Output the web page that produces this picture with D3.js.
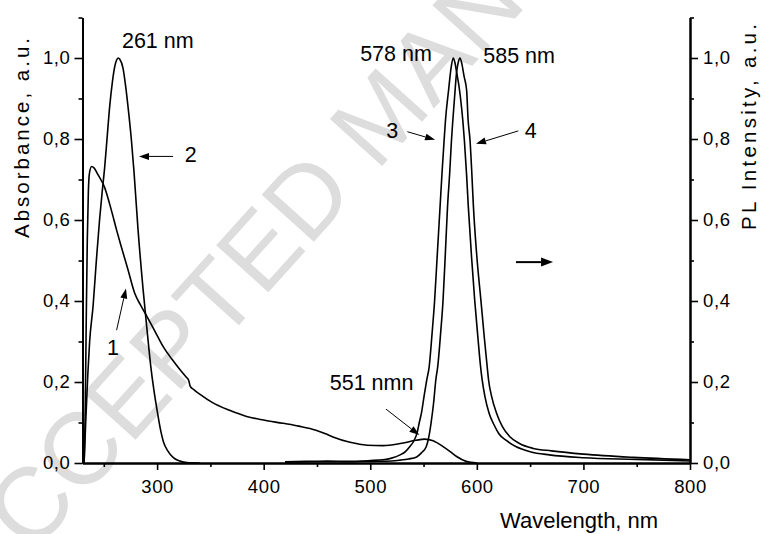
<!DOCTYPE html>
<html><head><meta charset="utf-8">
<script src="https://cdn.jsdelivr.net/npm/d3@7"></script>
<style>
body{margin:0;background:#fff}
svg{display:block}
text{font-family:Arial,"Liberation Sans",sans-serif;fill:#000}
</style>
</head><body><svg id="c" width="765" height="534"></svg>
<script>
// ---- data (wavelength in nm, normalized intensity) ----
const wl1  = [231.5,232.5,233.5,234.5,235.5,236.5,238.5,241,244.5,250.8,257,262,266.4,272.7,279,284,288.3,295,301,306,314,321,327,329.5,331,335,340,352,368,384,400,418,433,449,458,465,481,497,512,528,543,551,559,568,575,581,590,600];
const abs1 = [0,0.12,0.35,0.55,0.67,0.715,0.732,0.728,0.712,0.68,0.625,0.575,0.534,0.477,0.419,0.392,0.372,0.34,0.31,0.286,0.256,0.232,0.213,0.205,0.19,0.18,0.17,0.149,0.13,0.115,0.106,0.098,0.091,0.081,0.072,0.064,0.051,0.044,0.043,0.048,0.056,0.059,0.055,0.041,0.028,0.016,0.004,0.0];

const wl2  = [231.5,233,235,236.7,240,243,246,248.5,250.8,253,255.5,258,260.2,262,263.5,265,268,270.5,272.7,275.8,278.3,282,286.8,290.5,294,297,300,303,306,310,315,320,328,340];
const abs2 = [0,0.1,0.22,0.3,0.39,0.5,0.6,0.67,0.73,0.8,0.88,0.94,0.978,0.995,1.0,0.997,0.975,0.93,0.88,0.8,0.72,0.58,0.43,0.33,0.24,0.18,0.13,0.085,0.052,0.03,0.014,0.006,0.001,0];

const wl3 = [420,440,460,480,500,512,520,528,533,537,541,544,546,548,550.5,553,555.3,558,560.4,563,565.5,567.3,569.3,570.6,573.5,575.8,577.8,579.3,581,583,584.5,586.8,588.3,590.3,592,595,598,601,603.5,605,607.6,611.5,616,620.5,628,637,650,668,700,750,800];
const pl3 = [0.003,0.004,0.005,0.004,0.006,0.008,0.012,0.02,0.028,0.04,0.055,0.075,0.1,0.123,0.165,0.205,0.238,0.32,0.402,0.52,0.633,0.715,0.797,0.847,0.921,0.975,1.0,0.99,0.965,0.935,0.905,0.847,0.797,0.715,0.633,0.51,0.402,0.31,0.238,0.205,0.164,0.123,0.095,0.073,0.055,0.04,0.028,0.02,0.013,0.009,0.005];

const wl4 = [420,450,480,500,520,528,536,543.5,548,552.5,555,557,559.5,561.5,563.3,566,568.3,570.5,572.5,574.5,576.2,577.5,579.3,581,582.8,584.2,586,588,590.4,591.8,593.6,595.3,596.8,600,603.8,607,609.7,611,613.9,618.5,624,631,640,653,670,700,747,800];
const pl4 = [0.002,0.003,0.003,0.004,0.005,0.007,0.01,0.015,0.025,0.04,0.065,0.098,0.15,0.205,0.238,0.32,0.402,0.52,0.633,0.715,0.797,0.847,0.91,0.965,0.992,1.0,0.985,0.955,0.921,0.847,0.797,0.715,0.633,0.51,0.402,0.31,0.238,0.205,0.164,0.123,0.09,0.065,0.048,0.036,0.03,0.022,0.014,0.008];

const xMajor = [300,400,500,600,700,800];
const xMinor = [250,350,450,550,650,750];
const yMajor = [0,0.2,0.4,0.6,0.8,1.0];
const yMinor = [0.1,0.3,0.5,0.7,0.9,1.1];

const xTitle = "Wavelength, nm";
const yLeftTitle = "Absorbance, a.u.";
const yRightTitle = "PL Intensity, a.u.";

// annotation texts (positions in data units)
const labels = [
  {t:"261 nm", x:267, y:1.025},
  {t:"2", x:326, y:0.743},
  {t:"1", x:253, y:0.267},
  {t:"3", x:515, y:0.802},
  {t:"4", x:645, y:0.802},
  {t:"578 nm", x:490.5, y:0.993},
  {t:"585 nm", x:606, y:0.988},
  {t:"551 nmn", x:462, y:0.180}
];
const arrows = [
  {x1:315, y1:0.757, x2:283, y2:0.757, w:1},
  {x1:262, y1:0.328, x2:270.8, y2:0.431, w:1},
  {x1:534.8, y1:0.818, x2:560.8, y2:0.798, w:1},
  {x1:638.9, y1:0.820, x2:599.2, y2:0.788, w:1},
  {x1:514.8, y1:0.133, x2:546, y2:0.069, w:1},
  {x1:636.7, y1:0.496, x2:671.5, y2:0.496, w:2}
];

// ---- chart ----
const svg = d3.select("#c");
const x = d3.scaleLinear().domain([230,800]).range([82.5,690]);
const y = d3.scaleLinear().domain([0,1.1]).range([463,17.5]);
const fmt = d => d3.format(".1f")(d).replace(".", ",");

// watermark
svg.append("text").text("ACCEPTED MANUSCRIPT")
  .attr("transform","translate(-14,606) rotate(-48)")
  .style("font-size","102px").style("fill","#dddddd");

function styleAxis(g){
  g.select(".domain").attr("stroke","#000").attr("stroke-width",2);
  g.selectAll(".tick line").attr("stroke","#000").attr("stroke-width",1.6);
  g.selectAll(".tick text").style("font-size","18.5px").style("letter-spacing","0.6px").attr("fill","#000");
}

// bottom
svg.append("g").attr("transform","translate(0,463)")
  .call(d3.axisBottom(x).tickValues(xMinor).tickSize(4).tickSizeOuter(0).tickFormat(""))
  .call(styleAxis);
svg.append("g").attr("transform","translate(0,463)")
  .call(d3.axisBottom(x).tickValues(xMajor).tickSize(7).tickSizeOuter(0).tickPadding(10))
  .call(styleAxis);
// left
svg.append("g").attr("transform","translate(82.5,0)")
  .call(d3.axisLeft(y).tickValues(yMinor).tickSize(4).tickSizeOuter(0).tickFormat(""))
  .call(styleAxis);
svg.append("g").attr("transform","translate(82.5,0)")
  .call(d3.axisLeft(y).tickValues(yMajor).tickSize(8).tickSizeOuter(0).tickPadding(4).tickFormat(fmt))
  .call(styleAxis);
// right
svg.append("g").attr("transform","translate(690,0)")
  .call(d3.axisRight(y).tickValues(yMinor).tickSize(4).tickSizeOuter(0).tickFormat(""))
  .call(styleAxis);
svg.append("g").attr("transform","translate(690,0)")
  .call(d3.axisRight(y).tickValues(yMajor).tickSize(8).tickSizeOuter(0).tickPadding(5).tickFormat(fmt))
  .call(styleAxis);

// titles
svg.append("text").text(xTitle).attr("x",500).attr("y",528)
  .style("font-size","22px");
svg.append("text").text(yLeftTitle)
  .attr("transform","translate(29,238) rotate(-90)")
  .attr("textLength",200).attr("lengthAdjust","spacing")
  .style("font-size","20.5px");
svg.append("text").text(yRightTitle)
  .attr("transform","translate(756,230) rotate(-90)")
  .attr("textLength",206).attr("lengthAdjust","spacing")
  .style("font-size","20.5px");

// curves
const line = d3.line().x(d=>x(d[0])).y(d=>y(d[1])).curve(d3.curveMonotoneX);
const series = [[wl1,abs1],[wl2,abs2],[wl3,pl3],[wl4,pl4]];
svg.append("g").selectAll("path").data(series).join("path")
  .attr("d", s => line(s[0].map((w,i)=>[w,s[1][i]])))
  .attr("fill","none").attr("stroke","#000").attr("stroke-width",1.6)
  .attr("stroke-linejoin","round");

// annotations
svg.append("g").selectAll("text").data(labels).join("text")
  .attr("x",d=>x(d.x)).attr("y",d=>y(d.y)).text(d=>d.t)
  .style("font-size","21.5px");

const ag = svg.append("g");
arrows.forEach(a=>{
  const X1=x(a.x1),Y1=y(a.y1),X2=x(a.x2),Y2=y(a.y2);
  const dx=X2-X1, dy=Y2-Y1, L=Math.hypot(dx,dy), ux=dx/L, uy=dy/L;
  const hl = a.w>1?12:10, hw = a.w>1?4.5:3.5;
  const bx=X2-ux*hl, by=Y2-uy*hl;
  ag.append("line").attr("x1",X1).attr("y1",Y1).attr("x2",bx).attr("y2",by)
    .attr("stroke","#000").attr("stroke-width",a.w);
  ag.append("polygon").attr("points",
    [[X2,Y2],[bx-uy*hw,by+ux*hw],[bx+uy*hw,by-ux*hw]].map(p=>p.join(",")).join(" "))
    .attr("fill","#000");
});
</script></body></html>
